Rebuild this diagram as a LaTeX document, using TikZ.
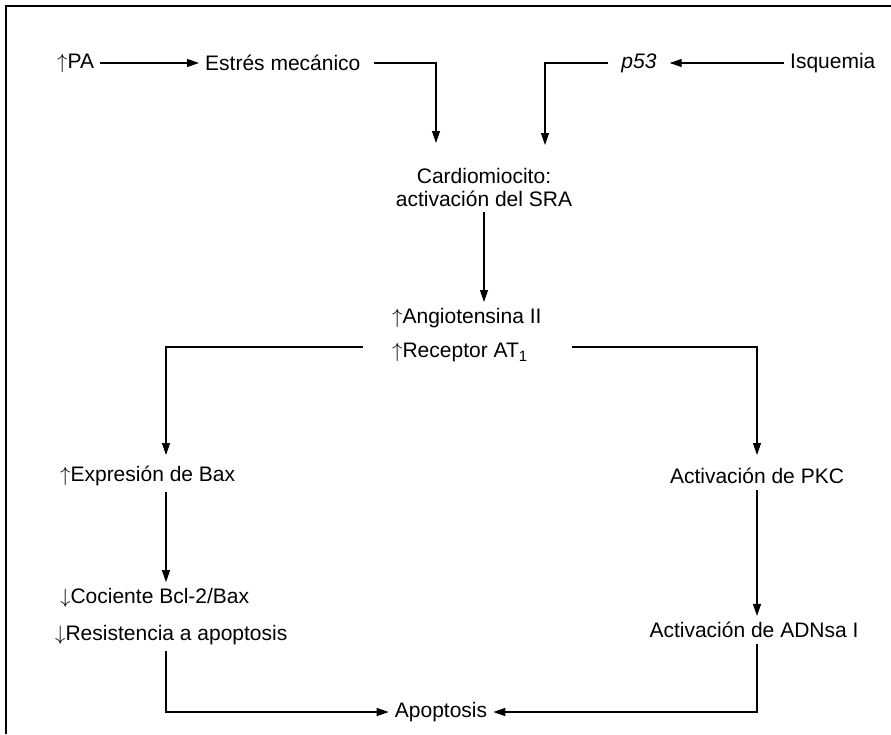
\documentclass[tikz,border=0pt]{standalone}
\usepackage{fontspec}
\setmainfont{Liberation Sans}
\usetikzlibrary{arrows.meta}
\newcommand{\up}{$\uparrow$}
\newcommand{\dn}{$\downarrow$}
\begin{document}
\begin{tikzpicture}[x=1pt, y=-1pt,
    lbl/.style={inner sep=6pt, font=\fontsize{21}{23}\selectfont},
    flow/.style={-{Triangle[length=12pt,width=8pt]}, line width=1.2pt}]

        % Page size and the frame (top and left edges only)
        \useasboundingbox (0,0) rectangle (891,734);
        \draw[line width=1.2pt] (6,734) -- (6,6) -- (891,6);

        % Top row of causes
        \node[lbl, anchor=west] (PA) at (51,63) {\up PA};
        \node[lbl, anchor=west] (Estres) at (199,63) {Estrés mecánico};
        \node[lbl, inner xsep=13pt, font=\fontsize{21}{23}\selectfont\itshape] (P53) at (639,63) {p53};
        \node[lbl, anchor=west] (Isq) at (784,63) {Isquemia};

        % Central column
        \node[lbl, align=center] (Cardio) at (484,187) {Cardiomiocito:\\activación del SRA};
        \node[lbl, anchor=west] (Angio) at (386,318) {\up Angiotensina II};
        \node[lbl, anchor=west] (Recep) at (386,352) {\up Receptor AT\raisebox{-4pt}{\fontsize{15}{15}\selectfont 1}};

        % Left and right branches
        \node[lbl, anchor=west] (Bax) at (54,476) {\up Expresión de Bax};
        \node[lbl, anchor=west] (Cociente) at (54,598) {\dn Cociente Bcl-2/Bax};
        \node[lbl, anchor=west] (Resist) at (49,635) {\dn Resistencia a apoptosis};
        \node[lbl] (PKC) at (757,476) {Activación de PKC};
        \node[lbl] (ADNsa) at (754,630) {Activación de ADNsa I};
        \node[lbl] (Apop) at (441,712) {Apoptosis};

        % Arrow tips that do not sit on a node centre
        \coordinate (inL) at (436,143);
        \coordinate (inR) at (545,145);
        \coordinate (colL) at (166,455);
        \coordinate (colR) at (757,455);

        % Links into the cardiomyocyte
        \draw[flow] (PA) -- (Estres);
        \draw[flow] (Isq) -- (P53);
        \draw[flow] ([xshift=7pt]Estres.east) -| (inL);
        \draw[flow] (P53.west) -| (inR);
        \draw[flow] (Cardio.south) -- (Cardio.south |- Angio.north);

        % Split from the receptor
        \draw[flow] ([xshift=-23pt,yshift=5pt]Recep.west) -| (colL);
        \draw[flow] ([xshift=39pt,yshift=5pt]Recep.east) -| (colR);

        % Down each branch and into apoptosis
        \draw[flow] (Bax.south -| colL) -- (Cociente.north -| colL);
        \draw[flow] (PKC.south -| colR) -- (ADNsa.north -| colR);
        \draw[flow] (Resist.south -| colL) |- (Apop.west);
        \draw[flow] (ADNsa.south -| colR) |- (Apop.east);

\end{tikzpicture}
\end{document}
